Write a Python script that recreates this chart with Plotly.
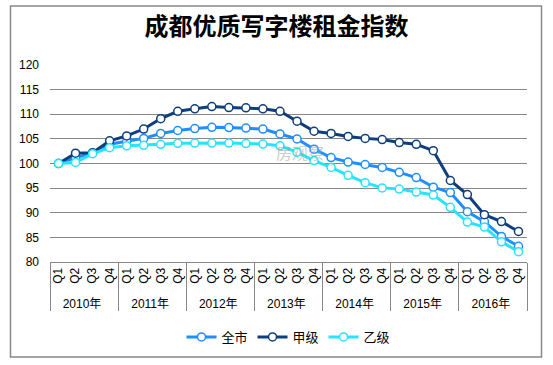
import plotly.graph_objects as go

years = ["2010年", "2011年", "2012年", "2013年", "2014年", "2015年", "2016年"]
quarters = ["Q1", "Q2", "Q3", "Q4"]

quanshi = [100, 101.2, 102.1, 103.9, 104.5, 105.1, 106.1, 106.7, 107.1, 107.35, 107.3, 107.2, 107.0, 106.0,
           105.0, 102.9, 101.2, 100.3, 99.8, 99.2, 98.2, 97.15, 95.2, 94.1, 90.2, 88.2, 85.2, 83.2]
jiaji = [100, 102.1, 102.2, 104.6, 105.6, 107.0, 109.1, 110.6, 111.1, 111.55, 111.35, 111.3, 111.1, 110.6,
         108.6, 106.55, 106.1, 105.5, 105.1, 104.85, 104.25, 103.9, 102.6, 96.55, 93.7, 89.6, 88.2, 86.2]
yiji = [100, 100.2, 102.0, 103.2, 103.6, 103.7, 103.9, 104.1, 104.15, 104.15, 104.15, 104.05, 103.95, 103.6,
        102.3, 100.6, 99.2, 97.6, 96.1, 95.05, 94.8, 94.2, 93.6, 91.1, 88.1, 87.1, 84.1, 82.1]

series_names = ["全市", "甲级", "乙级"]
series_colors = ["#1f8fff", "#0e3f7c", "#27e3fb"]
series_values = [quanshi, jiaji, yiji]

x_outer = [y for y in years for q in quarters]
x_inner = [q for y in years for q in quarters]

fig = go.Figure()
for name, color, vals in zip(series_names, series_colors, series_values):
    fig.add_trace(go.Scatter(
        x=[x_outer, x_inner], y=vals, name=name, mode="lines+markers",
        line=dict(color=color, width=3),
        marker=dict(symbol="circle", size=8, color="white", line=dict(color=color, width=1.5)),
    ))

n_points = len(x_inner)

fig.update_layout(
    width=553, height=365,
    margin=dict(l=50, r=26, t=65, b=103, autoexpand=False),
    paper_bgcolor="white", plot_bgcolor="white",
    font=dict(family="Liberation Sans, Noto Sans CJK SC", size=12, color="#000"),
    title=dict(text="<b>成都优质写字楼租金指数</b>", x=0.5, xref="container", xanchor="center",
               y=1 - 27 / 365, yref="container", yanchor="middle",
               font=dict(family="Noto Sans CJK SC", size=24, color="#000")),
    showlegend=True,
    legend=dict(orientation="h", x=0.5, xanchor="center", y=1 - 337 / 365, yref="container",
                yanchor="middle",
                font=dict(family="Noto Sans CJK SC", size=13, color="#000"),
                bgcolor="rgba(0,0,0,0)", itemwidth=30),
    xaxis=dict(type="multicategory", range=[-0.5, n_points - 0.5], tickangle=-90, showgrid=False,
               showline=True, linecolor="#888", linewidth=1, ticks="", showdividers=True,
               dividercolor="#888", dividerwidth=1, automargin=False,
               tickfont=dict(family="Liberation Sans, Noto Sans CJK SC", size=12)),
    yaxis=dict(range=[80, 120], dtick=5, showgrid=True, gridcolor="#888", gridwidth=1,
               zeroline=False, showline=False, ticks="", ticklabelstandoff=10, automargin=False,
               tickfont=dict(family="Liberation Sans", size=12)),
)

fig.add_shape(type="rect", xref="paper", yref="paper",
              x0=(10.5 - 50) / 477, x1=(541.5 - 50) / 477,
              y0=-(357 - 262) / 197, y1=1 + (65 - 6) / 197,
              line=dict(color="#888", width=1.5), fillcolor="rgba(0,0,0,0)", layer="below")

fig.add_annotation(text="房观察", xref="paper", yref="paper", x=(300 - 50) / 477, y=(262 - 152) / 197,
                   showarrow=False, font=dict(family="Noto Sans CJK SC", size=16, color="rgba(160,160,160,0.55)"))

fig.write_html("out.html", post_script="document.body.style.margin='0';",
               config={"displayModeBar": False})
